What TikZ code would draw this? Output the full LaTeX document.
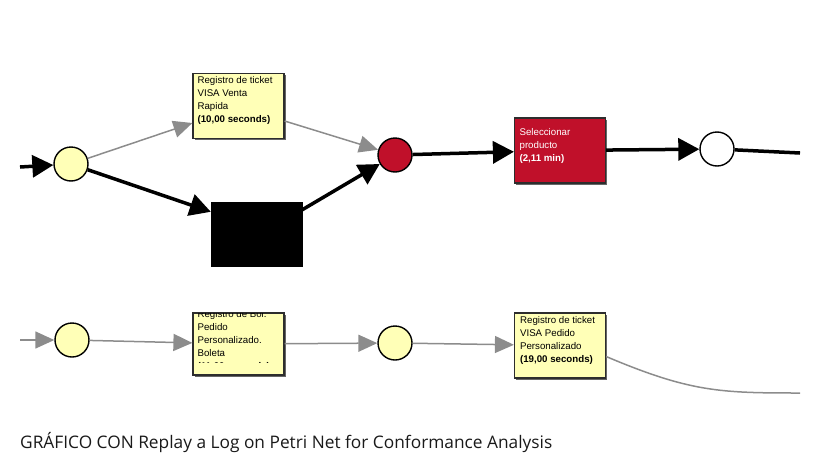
\documentclass[tikz,border=0pt]{standalone}
\usepackage{fontspec}
\setmainfont{Liberation Sans}
\newfontfamily\captionfont{Open Sans}
\usetikzlibrary{arrows.meta,positioning,shadows}
\definecolor{placeyellow}{RGB}{255,255,183}
\definecolor{netred}{RGB}{192,16,42}
\definecolor{arcgray}{RGB}{140,140,140}
\definecolor{boxline}{RGB}{45,45,45}
\begin{document}
\begin{tikzpicture}[x=1pt,y=-1pt]
\tikzset{place/.style = {draw, circle, line width=1.4pt, fill=placeyellow, minimum size=34pt, inner sep=0pt}}
\tikzset{trans/.style = {draw=boxline, line width=1.2pt, fill=placeyellow, minimum width=91pt, minimum height=65pt, inner sep=0pt, drop shadow={shadow xshift=1.5pt, shadow yshift=-1.5pt, fill=black!60, opacity=1}}}
\tikzset{boxtext/.style = {anchor=north west, align=left, inner sep=0pt, font=\fontsize{9.7}{13}\selectfont}}
\tikzset{thickarc/.style = {line width=3.5pt, -{Triangle[length=21pt,width=22pt]}}}
\tikzset{grayarc/.style = {draw=arcgray, line width=1.5pt, -{Triangle[length=19pt,width=17pt]}}}
\useasboundingbox (0,0) rectangle (832,458);
% top row
\coordinate (inbeg) at (20,167);
\node[place] (in1) at (71,164) {};
\node[trans] (vta) at (238.5,106) {};
\node[boxtext] (vtatxt) at ([xshift=5pt,yshift=-3.5pt]vta.north west) {Registro de ticket\\VISA Venta\\Rapida\\\textbf{(10,00 seconds)}};
\node[draw, fill=black, minimum width=91pt, minimum height=64pt] (tau) at (256.5,234) {};
\node[place, fill=netred] (mid) at (395,155) {};
\node[trans, fill=netred] (sel) at (560,150.5) {};
\node[boxtext, text=white] (seltxt) at ([xshift=5.5pt,yshift=-11pt]sel.north west) {Seleccionar\\producto\\\textbf{(2,11 min)}};
\node[place, fill=white] (out) at (717,149) {};
\coordinate (outend) at (800,153);
\draw[thickarc] (inbeg) -- (in1);
\draw[grayarc] (in1) -- ([yshift=-17pt]vta.west);
\draw[grayarc] ([yshift=-15pt]vta.east) -- (mid);
\draw[thickarc] (in1) -- ([yshift=-10pt]tau.north west);
\draw[thickarc] ([yshift=-8pt]tau.north east) -- (mid);
\draw[thickarc] (mid) -- (sel);
\draw[thickarc] (sel) -- (out);
\draw[line width=3.5pt] (out) -- (outend);
% bottom row
\coordinate (inbeg2) at (20,340);
\node[place] (in2) at (72,340) {};
\node[trans, minimum height=62pt] (bol) at (238.5,344) {};
\begin{scope}
\clip ([xshift=1pt,yshift=-1pt]bol.north west) rectangle ([yshift=13pt]bol.south east);
\node[boxtext] (boltxt) at ([xshift=5pt,yshift=2.5pt]bol.north west) {Registro de Bol.\\Pedido\\Personalizado.\\Boleta\\\textbf{(11,00 seconds)}};
\end{scope}
\node[place] (in3) at (395,343) {};
\node[trans] (vpd) at (560,345.5) {};
\node[boxtext] (vpdtxt) at ([xshift=6pt,yshift=-4pt]vpd.north west) {Registro de ticket\\VISA Pedido\\Personalizado\\\textbf{(19,00 seconds)}};
\coordinate (curveend) at (800,393);
\draw[grayarc] (inbeg2) -- (in2);
\draw[grayarc] (in2) -- (bol);
\draw[grayarc] (bol) -- (in3);
\draw[grayarc] (in3) -- (vpd);
\draw[draw=arcgray, line width=1.5pt] ([yshift=-11pt]vpd.east) .. controls (690,392) and (720,393) .. (curveend);
% caption
\node[anchor=base west, inner sep=0pt, font=\captionfont\fontsize{17.3}{20}\selectfont, text=black!90] (caption) at (20,448) {GRÁFICO CON Replay a Log on Petri Net for Conformance Analysis};
\end{tikzpicture}
\end{document}
